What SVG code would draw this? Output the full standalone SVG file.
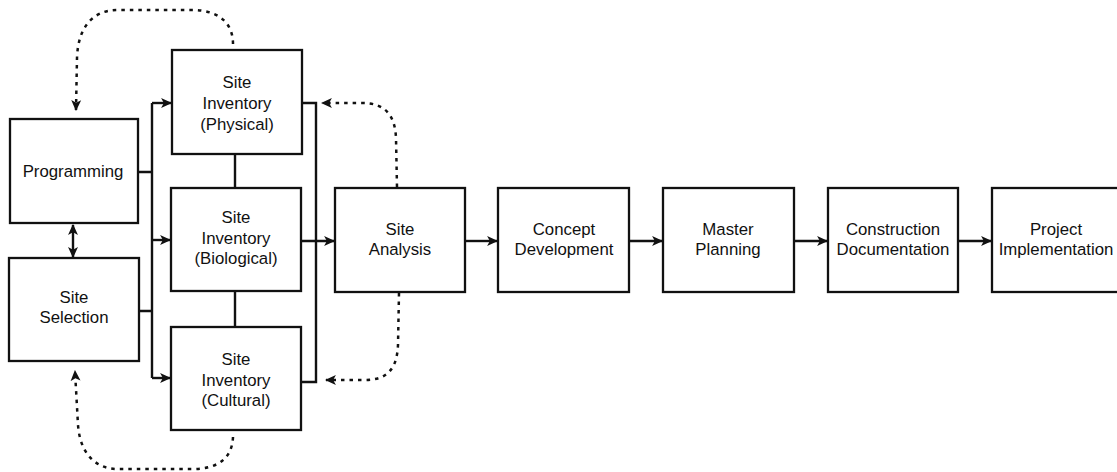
<svg xmlns="http://www.w3.org/2000/svg" width="1117" height="472" viewBox="0 0 1117 472">
<defs>
<marker id="ah" viewBox="0 0 10 10" refX="9" refY="5" markerWidth="11" markerHeight="11" markerUnits="userSpaceOnUse" orient="auto-start-reverse">
<path d="M0,0.5 L10,5 L0,9.5 L2.5,5 z" fill="#111"/>
</marker>
<style>
.box{fill:#fff;stroke:#111;stroke-width:2.3}
.lbl{font-family:"Liberation Sans",Arial,sans-serif;font-size:16.8px;fill:#111;text-anchor:middle}
.ln{fill:none;stroke:#111;stroke-width:2.4}
.arr{fill:none;stroke:#111;stroke-width:2.4;marker-end:url(#ah)}
.dot{fill:none;stroke:#111;stroke-width:2.5;stroke-dasharray:3.5 5;marker-end:url(#ah)}
</style>
</defs>
<rect width="1117" height="472" fill="#fff"/>
<g id="connectors">
<path class="ln" d="M138,172 H152 M139,311 H152 M152,103 V378"/>
<path class="arr" d="M152,103 H171"/>
<path class="arr" d="M152,240 H170"/>
<path class="arr" d="M152,378 H170"/>
<path class="ln" d="M235,154 V188 M235,291 V327"/>
<path class="ln" d="M302,103 H316 V382 H301"/>
<path class="arr" d="M301,241 H334"/>
<path class="arr" d="M73,225 V257" style="marker-start:url(#ah)"/>
<path class="arr" d="M465,241 H497"/>
<path class="arr" d="M629,241 H662"/>
<path class="arr" d="M794,241 H827"/>
<path class="arr" d="M958,241 H991"/>
<path class="dot" d="M233,44 C233,20 215,10 192,10 L118,10 C92,10 78,28 77,58 L76,110"/>
<path class="dot" d="M233,437 C232,460 216,469 192,469 L118,469 C94,469 80,452 78,425 L75,371"/>
<path class="dot" d="M397,187 L396,138 C395,116 386,103 362,103 L322,103"/>
<path class="dot" d="M399,293 L398,345 C397,368 388,380 365,380 L326,380"/>
</g>
<g id="programming"><rect class="box" x="10" y="119" width="128" height="104"/><text class="lbl" x="73" y="177">Programming</text></g>
<g id="site-selection"><rect class="box" x="9" y="258" width="130" height="103"/><text class="lbl" x="74" y="303">Site</text><text class="lbl" x="74" y="323">Selection</text></g>
<g id="inv-physical"><rect class="box" x="172" y="50" width="130" height="104"/><text class="lbl" x="237" y="88">Site</text><text class="lbl" x="237" y="109">Inventory</text><text class="lbl" x="237" y="130">(Physical)</text></g>
<g id="inv-biological"><rect class="box" x="171" y="188" width="130" height="103"/><text class="lbl" x="236" y="223">Site</text><text class="lbl" x="236" y="244">Inventory</text><text class="lbl" x="236" y="264">(Biological)</text></g>
<g id="inv-cultural"><rect class="box" x="171" y="327" width="130" height="103"/><text class="lbl" x="236" y="365">Site</text><text class="lbl" x="236" y="386">Inventory</text><text class="lbl" x="236" y="406">(Cultural)</text></g>
<g id="site-analysis"><rect class="box" x="335" y="188" width="130" height="104"/><text class="lbl" x="400" y="235">Site</text><text class="lbl" x="400" y="255">Analysis</text></g>
<g id="concept"><rect class="box" x="498" y="188" width="131" height="104"/><text class="lbl" x="564" y="235">Concept</text><text class="lbl" x="564" y="255">Development</text></g>
<g id="master"><rect class="box" x="663" y="188" width="131" height="104"/><text class="lbl" x="728" y="235">Master</text><text class="lbl" x="728" y="255">Planning</text></g>
<g id="construction"><rect class="box" x="828" y="188" width="130" height="104"/><text class="lbl" x="893" y="235">Construction</text><text class="lbl" x="893" y="255">Documentation</text></g>
<g id="implementation"><rect class="box" x="992" y="188" width="132" height="104"/><text class="lbl" x="1056" y="235">Project</text><text class="lbl" x="1056" y="255">Implementation</text></g>
</svg>
